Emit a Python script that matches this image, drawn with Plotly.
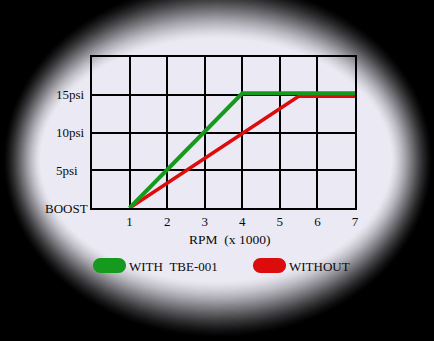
import plotly.graph_objects as go

# ---- data ----
rpm_with = [1, 4, 7]
boost_with = [0, 15.2, 15.2]
rpm_without = [1, 5.5, 7]
boost_without = [0, 14.8, 14.8]
x_ticks = [1, 2, 3, 4, 5, 6, 7]
y_ticks = [0, 5, 10, 15]
y_tick_text = ["BOOST", "5psi", "10psi", "15psi"]
legend_names = ["WITH\u00a0\u00a0TBE-001", "WITHOUT"]

GREEN = "#169a1e"
RED = "#dc0c0c"
BG = (235, 233, 243)
FONT = "Liberation Serif"
TXT = "#0a0a0a"

W, H = 434, 341
L, R, T, B = 92, 355, 57, 208  # plot area in pixels


def px(x):
    return (x - L) / (R - L)


def py(y):
    return (B - y) / (B - T)


fig = go.Figure()
fig.add_trace(go.Scatter(x=rpm_without, y=boost_without, mode="lines",
                         line=dict(color=RED, width=3.5), showlegend=False))
fig.add_trace(go.Scatter(x=rpm_with, y=boost_with, mode="lines",
                         line=dict(color=GREEN, width=4), showlegend=False))

shapes = []
# vignette: concentric ellipses from black edge to light centre
outer = (218, 160, 215, 178)
inner = (216, 160, 176, 122)
N = 50
for i in range(N):
    t = i / (N - 1)
    s = 0.5 * (t + t * t * (3 - 2 * t))
    cx = outer[0] + (inner[0] - outer[0]) * t
    cy = outer[1] + (inner[1] - outer[1]) * t
    a = outer[2] + (inner[2] - outer[2]) * t
    b = outer[3] + (inner[3] - outer[3]) * t
    col = "rgb(%d,%d,%d)" % tuple(int(round(c * s)) for c in BG)
    shapes.append(dict(type="circle", xref="paper", yref="paper",
                       x0=px(cx - a), x1=px(cx + a), y0=py(cy + b), y1=py(cy - b),
                       fillcolor=col, line=dict(width=0), layer="below"))


def pill(x0, x1, y0, y1, color):
    r = (y1 - y0) / 2
    k = 0.5523 * r
    ym = (y0 + y1) / 2
    pts = [
        ("M", [(x0 + r, y0)]),
        ("L", [(x1 - r, y0)]),
        ("C", [(x1 - r + k, y0), (x1, ym - k), (x1, ym)]),
        ("C", [(x1, ym + k), (x1 - r + k, y1), (x1 - r, y1)]),
        ("L", [(x0 + r, y1)]),
        ("C", [(x0 + r - k, y1), (x0, ym + k), (x0, ym)]),
        ("C", [(x0, ym - k), (x0 + r - k, y0), (x0 + r, y0)]),
    ]
    path = ""
    for cmd, ps in pts:
        path += cmd + " ".join("%.5f,%.5f" % (px(a), py(b)) for a, b in ps) + " "
    path += "Z"
    return dict(type="path", xref="paper", yref="paper", path=path,
                fillcolor=color, line=dict(width=0), layer="above")


shapes.append(pill(93, 126, 258, 273, GREEN))
shapes.append(pill(253, 286, 258, 273, RED))

annotations = [
    dict(text="RPM\u00a0\u00a0(x\u00a01000)", xref="paper", yref="paper",
         x=px(229), y=py(239), showarrow=False, xanchor="center", yanchor="middle",
         font=dict(family=FONT, size=13.5, color=TXT)),
    dict(text=legend_names[0], xref="paper", yref="paper", x=px(127), y=py(266),
         showarrow=False, xanchor="left", yanchor="middle",
         font=dict(family=FONT, size=13, color=TXT)),
    dict(text=legend_names[1], xref="paper", yref="paper", x=px(287), y=py(266),
         showarrow=False, xanchor="left", yanchor="middle",
         font=dict(family=FONT, size=13, color=TXT)),
]
# y tick labels, left-aligned as in the original artwork
for v, txt in zip(y_ticks, y_tick_text):
    annotations.append(dict(text=txt, xref="paper", yref="y",
                            x=px(43 if v == 0 else 54), y=v, showarrow=False,
                            xanchor="left", yanchor="middle",
                            font=dict(family=FONT, size=13, color=TXT)))

fig.update_layout(
    width=W, height=H,
    margin=dict(l=L, r=W - R, t=T, b=H - B, pad=0),
    paper_bgcolor="black",
    plot_bgcolor="rgba(0,0,0,0)",
    shapes=shapes,
    annotations=annotations,
    showlegend=False,
    font=dict(family=FONT, size=13, color=TXT),
)
fig.update_xaxes(range=[0, 7], tickvals=x_ticks, showgrid=True, gridcolor="black",
                 gridwidth=1.5, showline=True, linecolor="black", linewidth=1.5,
                 mirror=True, zeroline=False, ticks="", ticklabelstandoff=1,
                 tickfont=dict(family=FONT, size=13, color=TXT))
fig.update_yaxes(range=[0, 20], tickvals=y_ticks, showticklabels=False, showgrid=True,
                 gridcolor="black", gridwidth=1.5, showline=True, linecolor="black",
                 linewidth=1.5, mirror=True, zeroline=False, ticks="")

fig.write_html("out.html")
